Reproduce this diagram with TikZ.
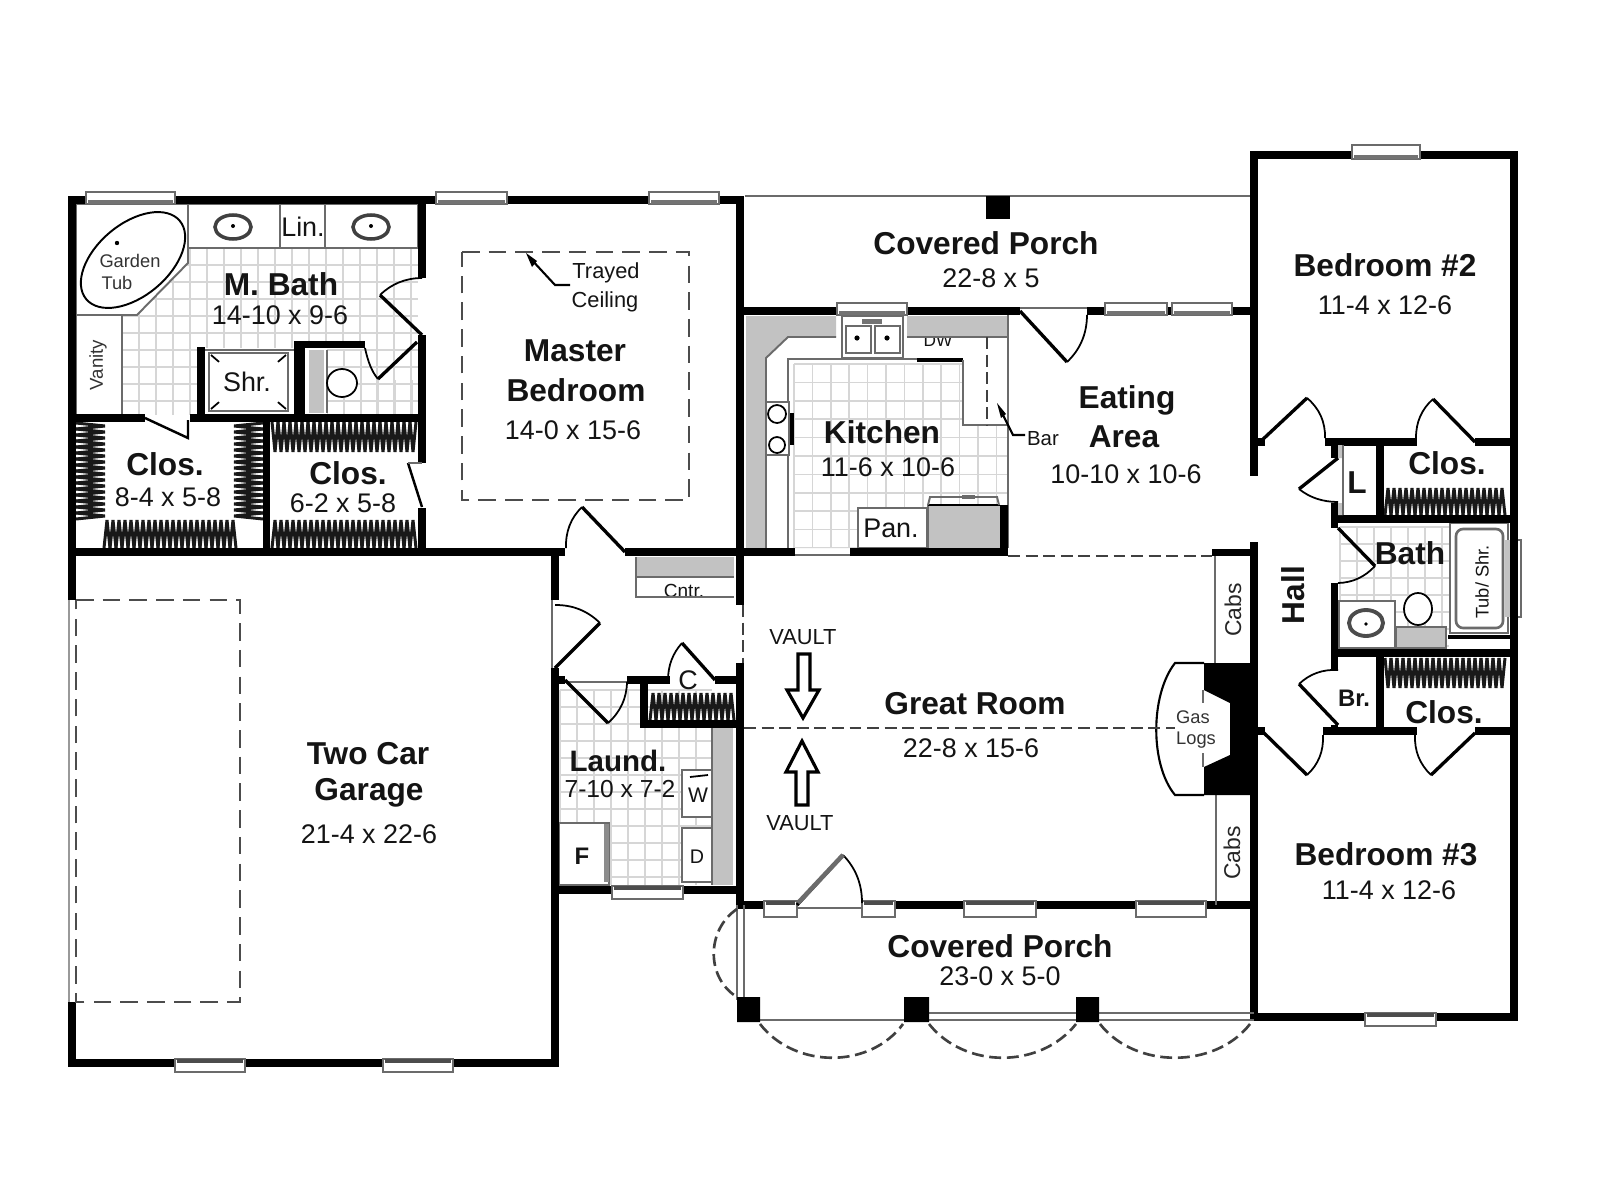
\documentclass[tikz,border=0pt]{standalone}
\usepackage{fontspec}
\setmainfont{Liberation Sans}
\usetikzlibrary{calc}
\definecolor{cgrey}{gray}{0.76}
\definecolor{lgrid}{gray}{0.84}
\definecolor{lline}{gray}{0.42}
\tikzset{
  wall/.style={line width=2.05pt,black,line cap=butt},
  thinl/.style={line width=0.55pt,lline},
  leaf/.style={line width=0.95pt,black},
  swing/.style={line width=0.5pt,black},
  dashl/.style={line width=0.8pt,black!70,dash pattern=on 5pt off 2.6pt},
  dashs/.style={line width=0.75pt,black!75,dash pattern=on 3.4pt off 1.6pt},
  hatchl/.style={line width=0.85pt,black!90,line join=bevel},
  winl/.style={line width=0.5pt,lline,fill=white},
  txt/.style={inner sep=0pt,align=center,text=black!92},
  ttl/.style={txt,font=\fontsize{9}{10}\selectfont\bfseries},
  dim/.style={txt,font=\fontsize{7.65}{9}\selectfont},
  mid/.style={txt,font=\fontsize{6.2}{8}\selectfont},
  sml/.style={txt,font=\fontsize{5.2}{7}\selectfont,text=black!80},
}
\newcommand\door[6]{%
  \draw[leaf] (#1,#2)--(#3,#4);
  \draw[swing] (#3,#4) .. controls ($0.724*(#3,#4)+0.391*(#5,#6)-0.115*(#1,#2)$) and ($0.391*(#3,#4)+0.724*(#5,#6)-0.115*(#1,#2)$) .. (#5,#6);}
\newcommand\nwin[4]{%
  \draw[winl] (#1,#3) rectangle (#2,#4);
  \fill[black!55] (#1+2,#4-4) rectangle (#2-2,#4);}
\newcommand\swin[4]{%
  \draw[winl] (#1,#3) rectangle (#2,#4);
  \fill[black!70] (#1+2,#3) rectangle (#2-2,#3+4);}
\newcommand\hatchH[4]{%
  \pgfmathtruncatemacro\hsecond{#1+6}%
  \foreach \x in {#1,\hsecond,...,#2}{\draw[hatchl] (\x,#3)--(\x+3,#4)--(\x+6,#3);}}
\newcommand\hatchV[4]{%
  \pgfmathtruncatemacro\hsecond{#3+6}%
  \foreach \y in {#3,\hsecond,...,#4}{\draw[hatchl] (#1,\y)--(#2,\y+3)--(#1,\y+6);}}
\newcommand\tiles[5]{% x1 x2 y1 y2 step
  \pgfmathsetmacro\tx{#1+#5}\pgfmathsetmacro\ty{#3+#5}%
  \foreach \x in {#1,\tx,...,#2}{\draw[line width=0.42pt,lgrid] (\x,#3)--(\x,#4);}
  \foreach \y in {#3,\ty,...,#4}{\draw[line width=0.42pt,lgrid] (#1,\y)--(#2,\y);}}
\begin{document}
\begin{tikzpicture}[x=0.01cm,y=-0.01cm]
\useasboundingbox (0,0) rectangle (1600,1200);
\fill[white] (0,0) rectangle (1600,1200);

% ---------- tile floors
\begin{scope}
\clip (122,248)--(418,248)--(418,415)--(122,415)--cycle;
\tiles{122}{418}{248}{415}{17}
\end{scope}
\begin{scope}
\clip (788,360)--(963,360)--(963,425)--(1008,425)--(1008,548)--(788,548)--cycle;
\tiles{794}{1008}{364}{548}{18.4}
\end{scope}
\begin{scope}
\clip (559,683)--(712,683)--(712,885)--(559,885)--cycle;
\tiles{560}{712}{690}{885}{17}
\end{scope}
\begin{scope}
\clip (1339,523)--(1449,523)--(1449,650)--(1339,650)--cycle;
\tiles{1340}{1449}{527}{650}{17}
\end{scope}

% ---------- master bath fixtures
\fill[white,draw=lline,line width=0.55pt] (76,204)--(188,204)--(188,263)--(137,315)--(76,315)--cycle;
\draw[swing,line width=0.55pt,rotate around={40:(133,260)}] (133,260) ellipse [x radius=61, y radius=36];
\fill (117,243) circle (2.2);
\draw[thinl,fill=white] (76,315) rectangle (122,415);
\draw[thinl,fill=white] (188,204) rectangle (418,248);
\draw[thinl] (280,204)--(280,248) (325,204)--(325,248);
\foreach \c in {233,371}{
  \draw[line width=1pt,black!75] (\c,227) ellipse [x radius=18, y radius=12];
  \fill (\c,226) circle (2);}
% shower
\fill[white] (204,348) rectangle (294,414);
\draw[thinl] (204,350)--(294,350);
\draw[thinl,line width=0.8pt,fill=white] (209,353) rectangle (288,411);
\draw[swing,dash pattern=on 3pt off 20pt] (211,355)--(225,367) (286,355)--(272,367) (211,409)--(225,397) (286,409)--(272,397);
\draw[wall] (201,347)--(201,418);
% WC
\fill[white] (305,348) rectangle (365,414);
\begin{scope}
\clip (327,348)--(365,348)--(372,380)--(418,380)--(418,415)--(327,415)--cycle;
\tiles{327}{418}{350}{415}{17}
\end{scope}
\fill[cgrey] (309,350) rectangle (324,413);
\draw[thinl] (327,350)--(327,413);
\draw[swing,fill=white] (342,383) ellipse [x radius=15, y radius=14];
\draw[wall,line width=3pt] (299.5,341)--(299.5,418);
\draw[wall] (294,344.5)--(365,344.5);

% ---------- closets hatch
\fill[white] (76,422) rectangle (418,548);
\hatchV{76}{105}{423}{515}
\hatchV{263}{234}{423}{515}
\hatchH{104}{232}{548}{520}
\hatchH{272}{410}{422}{452}
\hatchH{272}{410}{548}{520}
\hatchH{1385}{1503}{515}{488}
\hatchH{1385}{1503}{658}{688}
\hatchH{650}{728}{720}{693}

% ---------- kitchen
\fill[cgrey] (746,316)--(836,316)--(836,337)--(788,337)--(766,358)--(766,548)--(746,548)--cycle;
\node[txt,font=\fontsize{4.9}{6}\selectfont] (dw) at (938,341) {DW};
\fill[cgrey] (907,316) rectangle (1008,337);
\fill[white] (907,315) rectangle (1008,316);
\draw[thinl] (836,337)--(788,337)--(766,358)--(766,548);
\draw[thinl] (907,337)--(1008,337);
\draw[thinl,line width=0.75pt] (788,548)--(788,359)--(917,359);
\draw[leaf,line width=1pt] (917,360)--(963,360);
\draw[thinl,line width=0.75pt] (963,360)--(963,425)--(1008,425);
\draw[thinl,line width=0.8pt] (1008,315)--(1008,548);
\draw[dashs,line width=0.6pt] (987,337)--(987,425);
% sink
\draw[thinl,line width=0.8pt,fill=white] (842,316) rectangle (903,358);
\draw[thinl,fill=white] (846,326) rectangle (871,353);
\draw[thinl,fill=white] (875,326) rectangle (900,353);
\fill[black!55] (862,319) rectangle (882,324);
\fill (857,338) circle (2.6) (887,338) circle (2.6);
% range
\draw[thinl,fill=white] (766,402) rectangle (789,455);
\draw[swing] (777,414) circle (9) (777,445) circle (8);
\draw[leaf,line width=1.1pt] (792,413)--(792,445);
% pantry and fridge
\draw[thinl,line width=0.75pt,fill=white] (858,508) rectangle (927,548);
\fill[cgrey] (928,505) rectangle (1000,548);
\fill (1000,505) rectangle (1008,548);
\draw[thinl] (928,505)--(928,548);
\draw[leaf,line width=0.5pt] (928,505)--(1000,505);
\draw[thinl] (928,505)--(930,497)--(997,497)--(999,505);
\draw[thinl,line width=1pt] (962,497)--(975,497);
% bar pointer
\fill (997,403)--(1006,414)--(1001,418)--cycle;
\draw[swing,line width=0.6pt] (1003,415)--(1013,435)--(1025,435);

% ---------- laundry fixtures
\fill[cgrey] (713,728) rectangle (733,885);
\draw[thinl] (712,728)--(712,885);
\draw[thinl,fill=white] (682,770) rectangle (712,817);
\draw[swing] (690,777)--(708,775);
\draw[thinl,fill=white] (682,828) rectangle (712,882);
\draw[thinl,fill=white] (559,823) rectangle (609,885);
\fill[black!45] (604,824) rectangle (609,882);
\draw[thinl,line width=0.75pt] (559,682)--(627,682);
% counter by the garage entry
\fill[cgrey] (636,557) rectangle (734,576);
\node[txt,font=\fontsize{5.4}{6}\selectfont] (cntr) at (684,591) {Cntr.};
\draw[thinl,line width=0.7pt] (636,557)--(636,597)--(734,597) (636,577)--(734,577);

% ---------- bath fixtures (east)
\draw[thinl,fill=white] (1450,523) rectangle (1508,633);
\draw[thinl,line width=0.75pt,rounded corners=2pt] (1456,529) rectangle (1503,628);
\draw[thinl,fill=white] (1339,601) rectangle (1395,648);
\draw[line width=1.1pt,black!70] (1366,623) ellipse [x radius=17, y radius=13];
\fill (1366,624) circle (1.8);
\draw[swing,fill=white] (1418,609) ellipse [x radius=14, y radius=16];
\fill[cgrey] (1396,627) rectangle (1446,648);
\draw[thinl] (1396,627) rectangle (1446,648);
\draw[wall,line width=1.3pt] (1448,637)--(1512,637);
\fill[cgrey] (1505,540) rectangle (1510,617);
\draw[winl] (1511,540) rectangle (1521,617);

% ---------- walls
\draw[wall] (72,196)--(72,600) (72,1002)--(72,1067);
\draw[line width=0.4pt,black!40] (69,600)--(69,1002);
\draw[wall] (68,200)--(744,200);
\draw[wall] (422,200)--(422,278) (422,335)--(422,463) (422,508)--(422,552);
\draw[wall] (72,418)--(145,418) (190,418)--(422,418);
\draw[wall] (266.5,418)--(266.5,552);
\draw[wall] (68,552)--(565,552) (625,552)--(795,552) (850,552)--(1008,552);
\draw[thinl] (795,555)--(850,555);
\draw[wall] (68,1063)--(559,1063);
\draw[wall] (555,552)--(555,600) (555,668)--(555,1067);
\draw[thinl] (552,600)--(552,668);
\draw[wall] (740,196)--(740,605) (740,663)--(740,909);
\draw[wall] (740,311)--(1020,311) (1087,311)--(1254,311);
\draw[wall] (1254,151)--(1254,476) (1254,542)--(1254,1021);
\draw[wall] (1250,155)--(1518,155);
\draw[wall] (1514,151)--(1514,1021);
\draw[wall] (1250,1017)--(1518,1017);
\draw[wall] (1254,442)--(1265,442) (1325,442)--(1417,442) (1475,442)--(1514,442);
\draw[wall] (1254,731)--(1265,731) (1323,731)--(1417,731) (1475,731)--(1514,731);
\draw[wall] (1334.5,438)--(1334.5,458) (1334.5,503)--(1334.5,528) (1334.5,583)--(1334.5,670) (1334.5,725)--(1334.5,735);
\draw[wall] (1380,442)--(1380,519) (1380,653)--(1380,731);
\draw[wall] (1331,519)--(1514,519) (1331,653)--(1514,653);
\fill[cgrey] (1338,445) rectangle (1343,458) (1338,503) rectangle (1343,515);
\draw[thinl] (1343,445)--(1343,515);
\draw[wall] (1212,552.5)--(1254,552.5);
\draw[wall] (740,905)--(797,905) (862,905)--(1254,905);
\draw[wall] (555,680)--(565,680) (627,680)--(670,680) (715,680)--(740,680);
\draw[wall] (644,680)--(644,728) (640,724)--(740,724);
\draw[wall] (555,890)--(740,890);
\draw[thinl] (797,908)--(862,908);
\draw[thinl] (1020,308)--(1087,308);
\draw[thinl] (745,196)--(1250,196);
\fill (986,196) rectangle (1010,219);
\draw[thinl] (1215,556)--(1215,663) (1216,795)--(1216,905);

% ---------- fireplace
\draw[swing,line width=0.6pt,fill=white] (1204,663)--(1175,663) .. controls (1150,695) and (1150,765) .. (1175,795)--(1204,795);
\fill (1204,663)--(1204,690)--(1230,703)--(1230,755)--(1204,767)--(1204,795)--(1257,795)--(1257,663)--cycle;
\draw[thinl] (1203,690)--(1203,703) (1203,753)--(1203,767);

% ---------- windows
\nwin{86}{175}{192}{204}
\nwin{436}{507}{192}{204}
\nwin{649}{719}{192}{204}
\nwin{837}{907}{303}{315}
\nwin{1105}{1167}{303}{315}
\nwin{1172}{1232}{303}{315}
\nwin{1352}{1420}{145}{159}
\swin{175}{245}{1059}{1072}
\swin{383}{453}{1059}{1072}
\swin{612}{683}{886}{899}
\swin{764}{797}{901}{917}
\swin{862}{895}{901}{917}
\swin{964}{1036}{901}{917}
\swin{1136}{1206}{901}{917}
\swin{1365}{1436}{1013}{1026}

% ---------- doors
\door{422}{335}{380}{295}{422}{278}
\draw[leaf] (417,342)--(378,379);
\draw[swing] (378,379) .. controls (372,372) and (368,362) .. (365,348);
\fill[white] (145,420) -- (188,438) -- (188,422) -- (190,420) -- cycle;
\draw[swing,line width=0.7pt] (145,418)--(188,438)--(188,420);
\draw[swing,line width=0.7pt] (408,463)--(422,507);
\draw[thinl] (408,463)--(422,463);
\door{625}{552}{582}{507}{566}{548}
\door{555}{668}{600}{623}{555}{605}
\door{565}{680}{608}{723}{627}{682}
\door{715}{680}{682}{643}{668}{680}
\door{797}{905}{843}{855}{862}{903}
\draw[lline,line width=1.3pt] (798,903)--(843,855);
\door{1020}{311}{1067}{362}{1087}{315}
\door{1260}{442}{1307}{398}{1325}{438}
\door{1475}{442}{1433}{399}{1416}{438}
\door{1338}{458}{1299}{489}{1338}{502}
\door{1338}{528}{1375}{566}{1338}{583}
\door{1338}{725}{1299}{684}{1338}{670}
\door{1262}{731}{1307}{775}{1323}{735}
\door{1475}{733}{1431}{775}{1415}{735}

% ---------- garage door, tray, vault lines
\draw[dashl] (76,600)--(240,600)--(240,1002)--(76,1002)--cycle;
\draw[dashl] (462,252)--(689,252)--(689,500)--(462,500)--cycle;
\fill (526,253)--(537,261)--(532,267)--cycle;
\draw[swing,line width=0.6pt] (530,258)--(555,285)--(570,285);
\draw[dashs] (1008,556)--(1212,556);
\draw[dashs] (744,728)--(1175,728);
\draw[dashs,line width=0.7pt] (743,605)--(743,663);
\draw[leaf,line width=0.9pt,fill=white] (798,654)--(810,654)--(810,690)--(819,690)--(803,718)--(787,690)--(798,690)--cycle;
\draw[leaf,line width=0.9pt,fill=white] (796,805)--(808,805)--(808,772)--(818,772)--(802,741)--(786,772)--(796,772)--cycle;

% ---------- south porch
\draw[thinl] (737,905)--(737,1000) (744,905)--(744,1000);
\draw[thinl,line width=0.8pt] (737,1020)--(1254,1020);
\draw[thinl,line width=0.8pt] (928,1013)--(1254,1013);
\fill (737,997) rectangle (760,1022) (904,997) rectangle (929,1022) (1076,997) rectangle (1099,1022);
\draw[dashs] (760,1024) .. controls (795,1069) and (870,1069) .. (903,1024);
\draw[dashs] (929,1024) .. controls (965,1069) and (1040,1069) .. (1076,1024);
\draw[dashs] (1100,1024) .. controls (1135,1069) and (1215,1069) .. (1250,1024);
\draw[dashs] (737,909) .. controls (706,930) and (706,978) .. (737,997);

% ---------- labels
\node[ttl] (mbath) at (281,284) {M. Bath};
\node[dim] (mbathd) at (280,315) {14-10 x 9-6};
\node[sml] (garden) at (130,261) {Garden};
\node[sml] (tub) at (117,283) {Tub};
\node[dim] (lin) at (303,227) {Lin.};
\node[sml,rotate=90,font=\fontsize{5.3}{6}\selectfont] (vanity) at (98,365) {Vanity};
\node[dim] (shr) at (247,382) {Shr.};
\node[ttl] (clos1) at (165,464) {Clos.};
\node[dim] (clos1d) at (168,497) {8-4 x 5-8};
\node[ttl] (clos2) at (348,473) {Clos.};
\node[dim] (clos2d) at (343,503) {6-2 x 5-8};
\node[mid] (trayed) at (606,273) {Trayed};
\node[mid] (ceiling) at (605,302) {Ceiling};
\node[ttl] (master) at (575,351) {Master};
\node[ttl] (mbed) at (576,390) {Bedroom};
\node[dim] (mbedd) at (573,430) {14-0 x 15-6};
\node[ttl] (porch1) at (986,243) {Covered Porch};
\node[dim] (porch1d) at (991,278) {22-8 x 5};
\node[ttl] (kitchen) at (882,432) {Kitchen};
\node[dim] (kitchend) at (888,467) {11-6 x 10-6};
\node[dim] (pan) at (891,528) {Pan.};
\node[txt,font=\fontsize{5.8}{7}\selectfont] (bar) at (1043,439) {Bar};
\node[ttl] (eating) at (1127,400) {Eating};
\node[ttl] (area) at (1124,437) {Area};
\node[dim] (eatingd) at (1126,474) {10-10 x 10-6};
\node[ttl] (bed2) at (1385,265) {Bedroom \#2};
\node[dim] (bed2d) at (1385,305) {11-4 x 12-6};
\node[ttl] (clos3) at (1447,463) {Clos.};
\node[ttl] (lroom) at (1357,483) {L};
\node[ttl] (bath) at (1410,553) {Bath};
\node[txt,rotate=90,font=\fontsize{5.2}{7}\selectfont] (tubshr) at (1482,582) {Tub/ Shr.};
\node[ttl,rotate=90] (hall) at (1293,595) {Hall};
\node[txt,rotate=90,font=\fontsize{6.5}{8}\selectfont,text=black!85] (cabs1) at (1233,610) {Cabs};
\node[txt,rotate=90,font=\fontsize{6.5}{8}\selectfont,text=black!85] (cabs2) at (1232,853) {Cabs};
\node[ttl,font=\fontsize{6.8}{8}\selectfont\bfseries] (br) at (1354,698) {Br.};
\node[ttl] (clos4) at (1444,712) {Clos.};
\node[sml] (gas) at (1193,717) {Gas};
\node[sml] (logs) at (1196,740) {Logs};
\node[ttl] (great) at (975,704) {Great Room};
\node[dim] (greatd) at (971,748) {22-8 x 15-6};
\node[mid] (vault1) at (803,637) {VAULT};
\node[mid] (vault2) at (800,823) {VAULT};
\node[ttl] (bed3) at (1386,854) {Bedroom \#3};
\node[dim] (bed3d) at (1389,890) {11-4 x 12-6};
\node[ttl] (porch2) at (1000,946) {Covered Porch};
\node[dim] (porch2d) at (1000,976) {23-0 x 5-0};
\node[ttl] (garage1) at (368,754) {Two Car};
\node[ttl] (garage2) at (369,793) {Garage};
\node[dim] (garaged) at (369,834) {21-4 x 22-6};
\node[ttl,font=\fontsize{8.4}{10}\selectfont\bfseries] (laund) at (618,761) {Laund.};
\node[dim,font=\fontsize{7}{8}\selectfont] (laundd) at (620,789) {7-10 x 7-2};
\node[dim] (cl) at (688,680) {C};
\node[txt,font=\fontsize{6}{7}\selectfont] (w) at (698,795) {W};
\node[txt,font=\fontsize{5.6}{7}\selectfont] (d) at (697,857) {D};
\node[txt,font=\fontsize{6.8}{8}\selectfont\bfseries] (f) at (582,856) {F};
\end{tikzpicture}
\end{document}
